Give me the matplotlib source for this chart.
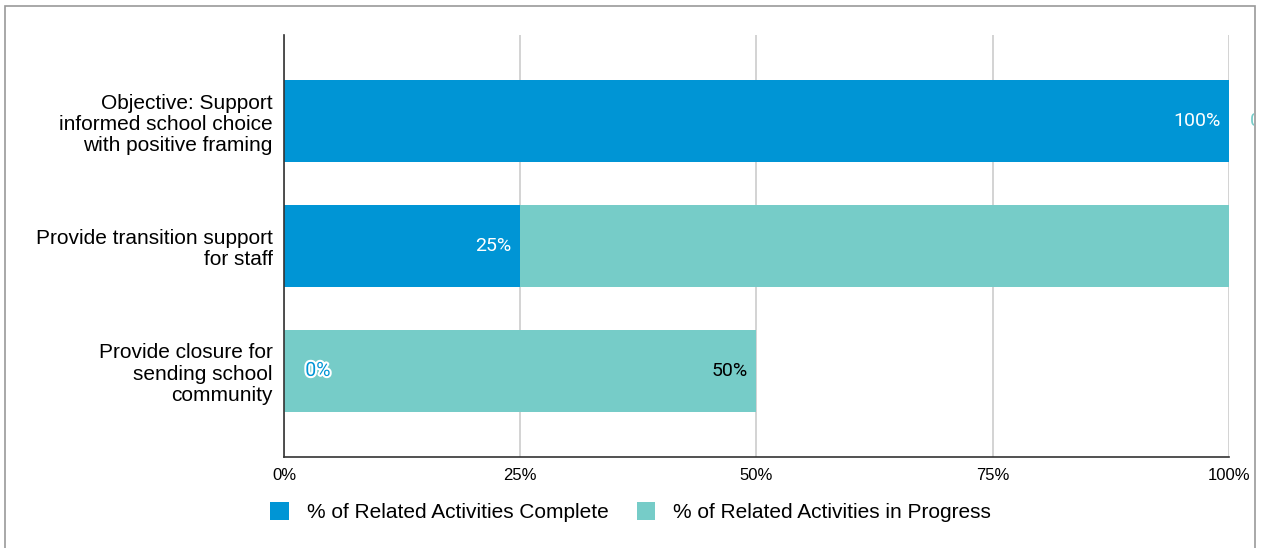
import matplotlib.pyplot as plt
import matplotlib.patheffects as pe
from matplotlib.patches import Rectangle

# Data
categories = ['Objective: Support\ninformed school choice\nwith positive framing',
              'Provide transition support\nfor staff',
              'Provide closure for\nsending school\ncommunity']
complete = [100, 25, 0]
in_progress = [0, 75, 50]
x_ticks = [0, 25, 50, 75, 100]
x_tick_labels = ['0%', '25%', '50%', '75%', '100%']

blue = '#0095d5'
teal = '#76ccc8'

plt.rcParams['font.family'] = ['Liberation Sans', 'DejaVu Sans']

fig = plt.figure(figsize=(12.61, 5.48), dpi=100)
ax = fig.add_axes([0.2252, 0.166, 0.7494, 0.770])

ypos = list(range(len(categories)))
ax.barh(ypos, complete, height=0.66, color=blue, label='% of Related Activities Complete', zorder=3)
ax.barh(ypos, in_progress, left=complete, height=0.66, color=teal,
        label='% of Related Activities in Progress', zorder=3)

ax.set_ylim(2.69, -0.69)
ax.set_xlim(0, 100)
ax.set_yticks(ypos)
ax.set_yticklabels(categories, fontsize=15)
for lab in ax.get_yticklabels():
    lab.set_multialignment('right')
    lab.set_linespacing(1.15)
ax.set_xticks(x_ticks)
ax.set_xticklabels(x_tick_labels, fontsize=12)
ax.tick_params(axis='both', length=0)
ax.tick_params(axis='y', pad=8)
ax.tick_params(axis='x', pad=8)

ax.grid(axis='x', color='#cccccc', linewidth=1.2, zorder=0)
for s in ['top', 'right']:
    ax.spines[s].set_visible(False)
for s in ['left', 'bottom']:
    ax.spines[s].set_color('#333333')
    ax.spines[s].set_linewidth(1.2)
    ax.spines[s].set_zorder(4)

# value labels
lab_font = dict(fontsize=14, family=['Roboto', 'DejaVu Sans'], va='center', zorder=5)
ax.text(complete[0] - 0.9, 0, '100%', ha='right', color='white', **lab_font)
ax.text(complete[1] - 0.9, 1, '25%', ha='right', color='white', **lab_font)
ax.text(3.6, 2, '0%', ha='center', color=blue,
        path_effects=[pe.withStroke(linewidth=3, foreground='white')], **lab_font)
ax.text(complete[2] + in_progress[2] - 0.9, 2, '50%', ha='right', color='black', **lab_font)

# border of the chart
border = Rectangle((5 / 1261, -0.05), 1250 / 1261, 1 - 6 / 548 + 0.05, transform=fig.transFigure,
                   fill=False, edgecolor='#999999', linewidth=1.2, zorder=6)
fig.patches.append(border)

# in-progress label of the first bar, cut by the chart border
t = ax.text(complete[0] + in_progress[0] + 2.2, 0, '0%', ha='left', color=teal, **lab_font)
t.set_clip_path(Rectangle((0, 0), 1254 / 1261, 1, transform=fig.transFigure))
t.set_clip_on(True)

fig.legend(loc='center', bbox_to_anchor=(0.5, 0.066), ncol=2, frameon=False, fontsize=15,
           handlelength=0.9, handleheight=0.95, handletextpad=0.85, columnspacing=1.35)

fig.savefig('out.png', dpi=100)
